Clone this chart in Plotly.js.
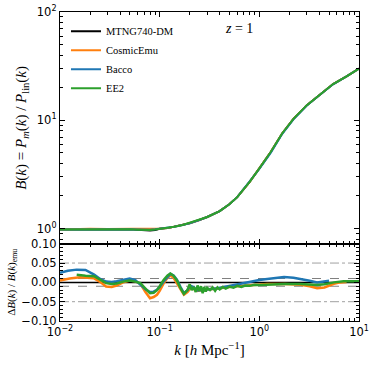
<!DOCTYPE html>
<html>
<head>
<meta charset="utf-8">
<script src="https://cdn.plot.ly/plotly-3.0.1.min.js"></script>
<style>body{margin:0;background:#fff}#plot{width:374px;height:368px}</style>
</head>
<body>
<div id="plot"></div>
<script>
// top panel: boost B(k) = P_m / P_lin
let kTop = [0.01, 0.015, 0.02, 0.03, 0.04, 0.05, 0.06, 0.07, 0.08, 0.09, 0.1, 0.12, 0.14, 0.17, 0.2, 0.25, 0.3, 0.4, 0.5, 0.6, 0.8, 1.0, 1.3, 1.7, 2.2, 3, 4, 5.5, 7.5, 10];
let bMtng = [0.98, 0.985, 0.985, 0.98, 0.985, 0.985, 0.975, 0.965, 0.958, 0.972, 0.995, 1.01, 1.04, 1.08, 1.12, 1.2, 1.28, 1.45, 1.68, 1.95, 2.7, 3.6, 5.1, 7.6, 10.3, 13.8, 17.0, 21.6, 25.5, 30];
let bEmu  = [0.98, 0.99, 0.995, 0.99, 0.99, 0.99, 0.985, 0.985, 0.99, 0.995, 1.0, 1.01, 1.04, 1.08, 1.12, 1.2, 1.28, 1.45, 1.68, 1.95, 2.7, 3.6, 5.1, 7.6, 10.3, 13.8, 17.0, 21.6, 25.5, 30];
let bBacco = [0.98, 0.985, 0.985, 0.98, 0.985, 0.985, 0.98, 0.975, 0.975, 0.985, 0.995, 1.01, 1.04, 1.08, 1.12, 1.2, 1.28, 1.45, 1.68, 1.95, 2.7, 3.55, 5.0, 7.5, 10.2, 13.7, 17.0, 21.5, 25.5, 30];
let bEE2  = [0.98, 0.985, 0.985, 0.98, 0.985, 0.985, 0.978, 0.972, 0.97, 0.98, 0.995, 1.01, 1.04, 1.08, 1.13, 1.2, 1.28, 1.45, 1.68, 1.95, 2.7, 3.6, 5.1, 7.6, 10.3, 13.8, 17.0, 21.6, 25.5, 30];

// bottom panel: relative differences
let kEmu = [0.01, 0.0125, 0.0159, 0.019, 0.022, 0.025, 0.029, 0.033, 0.037, 0.043, 0.05, 0.057, 0.064, 0.072, 0.08, 0.087, 0.094, 0.1, 0.11, 0.12, 0.128, 0.138, 0.149, 0.162, 0.175, 0.19, 0.204, 0.22, 0.238, 0.27, 0.3, 0.4, 0.55, 0.8, 1.2, 1.8, 2.6, 3.2, 3.8, 4.5, 5.6, 6.5, 7.5];
let dEmu = [0.005, 0.01, 0.013, 0.012, 0.0105, 0.002, -0.0105, -0.012, -0.008, 0.0, 0.005, 0.003, -0.004, -0.025, -0.041, -0.038, -0.032, -0.022, -0.002, 0.012, 0.018, 0.012, -0.002, -0.018, -0.032, -0.025, -0.015, -0.017, -0.022, -0.02, -0.019, -0.015, -0.0105, -0.007, -0.004, -0.004, -0.006, -0.01, -0.015, -0.013, -0.0035, 0.0, 0.001];

let kBacco = [0.01, 0.012, 0.0147, 0.018, 0.022, 0.0253, 0.029, 0.033, 0.037, 0.043, 0.05, 0.057, 0.064, 0.072, 0.08, 0.087, 0.094, 0.1, 0.11, 0.12, 0.128, 0.138, 0.149, 0.162, 0.175, 0.19, 0.204, 0.22, 0.238, 0.27, 0.3, 0.38, 0.47, 0.6, 0.81, 1.0, 1.2, 1.5, 1.77, 2.2, 2.6, 3.2, 3.8, 4.4, 5.0];
let dBacco = [0.025, 0.03, 0.033, 0.032, 0.02, 0.009, 0.002, 0.001, 0.003, 0.007, 0.010, 0.006, -0.006, -0.018, -0.025, -0.024, -0.019, -0.012, 0.003, 0.015, 0.022, 0.018, 0.007, -0.012, -0.028, -0.02, -0.009, -0.013, -0.021, -0.02, -0.019, -0.015, -0.0105, -0.005, 0.003, 0.006, 0.009, 0.012, 0.014, 0.012, 0.009, 0.004, 0.0, 0.002, 0.004];

let kEE2 = [0.0147, 0.018, 0.022, 0.025, 0.029, 0.033, 0.037, 0.043, 0.05, 0.057, 0.064, 0.072, 0.08, 0.087, 0.094, 0.1, 0.11, 0.12, 0.128, 0.138, 0.149, 0.162, 0.175, 0.19, 0.2, 0.21, 0.22, 0.23, 0.24, 0.25, 0.26, 0.27, 0.28, 0.29, 0.3, 0.32, 0.34, 0.36, 0.38, 0.4, 0.43, 0.46, 0.5, 0.55, 0.6, 0.66, 0.72, 0.8, 0.9, 1.0, 1.3, 1.8, 2.6, 3.2, 3.8, 4.5, 5.6, 7, 10];
let dEE2 = [0.020, 0.017, 0.016, 0.008, -0.002, -0.004, -0.003, 0.002, 0.005, 0.002, -0.002, -0.016, -0.028, -0.027, -0.02, -0.01, 0.007, 0.018, 0.023, 0.017, 0.005, -0.015, -0.03, -0.02, -0.005, -0.02, -0.012, -0.025, -0.008, -0.022, -0.01, -0.028, -0.012, -0.024, -0.014, -0.02, -0.013, -0.022, -0.013, -0.018, -0.012, -0.016, -0.011, -0.014, -0.009, -0.012, -0.008, -0.009, -0.006, -0.007, -0.005, -0.004, -0.004, -0.006, -0.007, -0.005, 0.0, 0.003, 0.003];

let names = ['MTNG740-DM', 'CosmicEmu', 'Bacco', 'EE2'];
let colores = ['#000000', '#ff7f0e', '#1f77b4', '#2ca02c'];

// tick labels
let xTicks = [0.01, 0.1, 1, 10];
let xTickText = ['10<sup>−2</sup>', '10<sup>−1</sup>', '10<sup>0</sup>', '10<sup>1</sup>'];
let yTicks = [1, 10, 100];
let yTickText = ['10<sup>0</sup>', '10<sup>1</sup>', '10<sup>2</sup>'];
let resTicks = [-0.1, -0.05, 0, 0.05, 0.1];

// horizontal guides in the residual panel
let refY = [0, 0.01, -0.01, 0.05, -0.05];
let refDash = ['solid', 'dash', 'dash', 'dashdot', 'dashdot'];
let refColor = ['#000000', '#808080', '#808080', '#a0a0a0', '#a0a0a0'];

// minor log ticks 2..9 per decade
function menores(d0, d1) {
	let v = [];
	for (let d = d0; d <= d1; d++)
		for (let m = 2; m <= 9; m++) v.push(m * Math.pow(10, d));
	return v;
}

let topB = [bMtng, bEmu, bBacco, bEE2];
let trazas = [];
for (let i = 0; i < 4; i++) {
	trazas.push({
		x: kTop, y: topB[i], type: 'scatter', mode: 'lines',
		name: names[i], line: {color: colores[i], width: 2},
		xaxis: 'x', yaxis: 'y'
	});
}
let bottomK = [kEmu, kBacco, kEE2];
let bottomD = [dEmu, dBacco, dEE2];
for (let i = 0; i < 3; i++) {
	trazas.push({
		x: bottomK[i], y: bottomD[i], type: 'scatter', mode: 'lines',
		line: {color: colores[i + 1], width: 2.5}, showlegend: false,
		xaxis: 'x2', yaxis: 'y2'
	});
}

let shapes = refY.map((v, i) => ({
	type: 'line', xref: 'x2 domain', x0: 0, x1: 1, yref: 'y2', y0: v, y1: v,
	line: {color: refColor[i], width: i == 0 ? 1.5 : 1, dash: refDash[i]}, layer: 'below'
}));

let tickFont = {family: 'DejaVu Sans', size: 11.5, color: '#000'};
let serif = 'Liberation Serif';
let ejeX = {
	type: 'log', range: [-2, 1], showline: true, mirror: 'allticks', linecolor: '#000', linewidth: 1.3,
	ticks: 'inside', ticklen: 5, tickcolor: '#000', tickmode: 'array', tickvals: xTicks, ticktext: xTickText,
	showgrid: false, zeroline: false, tickfont: tickFont,
	minor: {ticks: 'inside', ticklen: 3, tickmode: 'array', tickvals: menores(-2, 0), tickcolor: '#000', showgrid: false}
};

let layout = {
	width: 374, height: 368,
	margin: {l: 60, r: 15, t: 12, b: 47},
	paper_bgcolor: '#fff', plot_bgcolor: '#fff',
	showlegend: true,
	legend: {x: 0.02, y: 0.985, xanchor: 'left', yanchor: 'top', bgcolor: 'rgba(0,0,0,0)',
		font: {family: serif, size: 10.5, color: '#000'}, itemwidth: 30},
	xaxis: Object.assign({}, ejeX, {anchor: 'y', showticklabels: false}),
	yaxis: {
		domain: [0.25, 1], type: 'log', range: [-0.14, 2], anchor: 'x',
		showline: true, mirror: 'allticks', linecolor: '#000', linewidth: 1.3,
		ticks: 'inside', ticklen: 5, tickcolor: '#000', tickmode: 'array', tickvals: yTicks, ticktext: yTickText,
		showgrid: false, zeroline: false, tickfont: tickFont,
		minor: {ticks: 'inside', ticklen: 3, tickmode: 'array', tickvals: menores(-1, 1), tickcolor: '#000', showgrid: false},
		title: {text: '<i>B</i>(<i>k</i>) = <i>P<sub>m</sub></i>(<i>k</i>) / <i>P</i><sub>lin</sub>(<i>k</i>)',
			font: {family: serif, size: 15, color: '#000'}, standoff: 6}
	},
	xaxis2: Object.assign({}, ejeX, {anchor: 'y2',
		title: {text: '<i>k</i> [<i>h</i> Mpc<sup>−1</sup>]', font: {family: serif, size: 15, color: '#000'}, standoff: 6}}),
	yaxis2: {
		domain: [0, 0.25], range: [-0.1, 0.1], anchor: 'x2',
		showline: true, mirror: 'allticks', linecolor: '#000', linewidth: 1.3,
		ticks: 'inside', ticklen: 5, tickcolor: '#000', tickmode: 'array', tickvals: resTicks, tickformat: '.2f',
		showgrid: false, zeroline: false, tickfont: tickFont,
		minor: {ticks: 'inside', ticklen: 3, dtick: 0.01, tick0: 0, tickcolor: '#000', showgrid: false},
		title: {text: 'Δ<i>B</i>(<i>k</i>) / <i>B</i>(<i>k</i>)<sub>emu</sub>', font: {family: serif, size: 11, color: '#000'}, standoff: 3}
	},
	shapes: shapes,
	annotations: [{
		text: '<i>z</i> = 1', xref: 'paper', yref: 'paper', x: 0.6, y: 0.945, showarrow: false,
		xanchor: 'center', yanchor: 'middle', font: {family: serif, size: 14, color: '#000'}
	}]
};

Plotly.newPlot(document.getElementById('plot'), trazas, layout, {displayModeBar: false});
</script>
</body>
</html>
